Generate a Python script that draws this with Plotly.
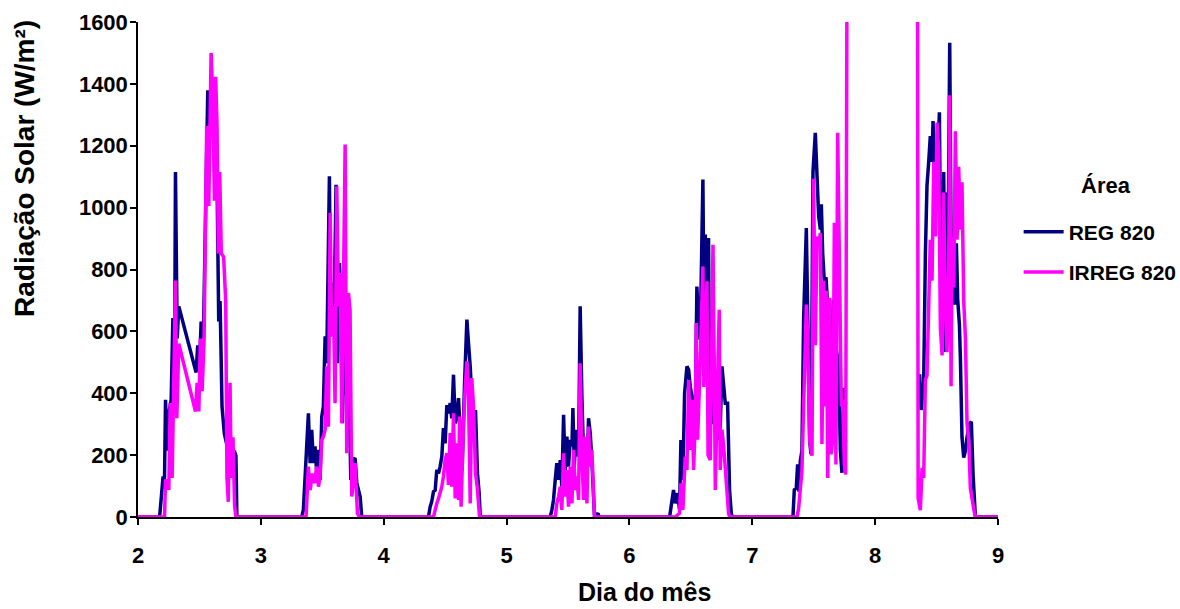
import plotly.graph_objects as go

# ---- data (day of month, solar radiation W/m2) ----
reg_x = [
    2.000, 2.176, 2.203, 2.216, 2.224, 2.238, 2.251, 2.270, 2.284, 2.297, 2.305, 2.319, 2.332,
    2.473, 2.486, 2.500, 2.514, 2.532, 2.568, 2.581, 2.603, 2.622, 2.641, 2.657, 2.668, 2.684,
    2.703, 2.722, 2.743, 2.765, 2.784, 2.797, 2.805,
    3.333, 3.346, 3.387, 3.401, 3.414, 3.428, 3.441, 3.455, 3.469, 3.482, 3.496, 3.509, 3.523,
    3.536, 3.558, 3.569, 3.585, 3.596, 3.612, 3.623, 3.640, 3.653, 3.664, 3.678, 3.699, 3.713,
    3.732, 3.748, 3.767, 3.781, 3.808, 3.821,
    4.364, 4.378, 4.391, 4.405, 4.419, 4.432, 4.446, 4.459, 4.473, 4.486, 4.500, 4.514, 4.527,
    4.541, 4.554, 4.568, 4.582, 4.595, 4.609, 4.622, 4.638, 4.658, 4.677, 4.690, 4.704, 4.717,
    4.731, 4.747, 4.763, 4.777, 4.785, 4.793,
    5.355, 5.369, 5.382, 5.396, 5.409, 5.423, 5.437, 5.450, 5.464, 5.477, 5.491, 5.504, 5.518,
    5.532, 5.540, 5.551, 5.567, 5.586, 5.599, 5.613, 5.627, 5.640, 5.654, 5.667, 5.681, 5.694,
    5.708, 5.716, 5.745, 5.752,
    6.327, 6.338, 6.359, 6.373, 6.392, 6.408, 6.419, 6.435, 6.449, 6.468, 6.482, 6.495, 6.509,
    6.522, 6.536, 6.549, 6.563, 6.576, 6.598, 6.606, 6.617, 6.630, 6.644, 6.651, 6.658, 6.668,
    6.685, 6.700, 6.712, 6.725, 6.740, 6.753, 6.780, 6.799, 6.815, 6.829, 6.837,
    7.331, 7.342, 7.358, 7.369, 7.380, 7.391, 7.404, 7.418, 7.440, 7.451, 7.467, 7.478, 7.494,
    7.513, 7.527, 7.540, 7.554, 7.562, 7.573, 7.586, 7.600, 7.620, 7.640, 7.660, 7.680, 7.703,
    7.717, 7.730, 7.744, 7.757, 7.765,
    8.050,
    8.355, 8.363, 8.374, 8.395, 8.409, 8.422, 8.436, 8.449, 8.463, 8.471, 8.482, 8.504, 8.523,
    8.531, 8.545, 8.558, 8.572, 8.580, 8.591, 8.607, 8.618, 8.631, 8.648, 8.661, 8.672, 8.686,
    8.694, 8.707, 8.721, 8.735, 8.748, 8.770, 8.783, 8.797, 8.816, 9.000,
]
reg_y = [
    0, 0, 126, 126, 379, 214, 335, 379, 643, 412, 1115, 577, 681,
    467, 555, 478, 632, 577, 1379, 1302, 1346, 1313, 1170, 632, 698, 357,
    269, 236, 302, 192, 214, 198, 0,
    0, 23, 335, 174, 282, 174, 228, 141, 217, 120, 325, 357, 584,
    497, 1101, 584, 756, 648, 1074, 497, 821, 648, 303, 605, 389, 551,
    120, 184, 190, 109, 66, 0,
    0, 33, 50, 82, 87, 152, 141, 163, 195, 287, 238, 362, 335,
    368, 319, 460, 303, 325, 384, 271, 150, 433, 638, 562, 487, 379,
    271, 346, 141, 77, 6, 0,
    0, 23, 55, 120, 174, 120, 184, 98, 330, 141, 260, 163, 249,
    228, 352, 163, 282, 195, 681, 389, 195, 217, 109, 319, 271, 184,
    12, 0, 12, 0,
    0, 33, 87, 44, 77, 23, 249, 120, 400, 487, 476, 422, 389,
    217, 325, 745, 616, 573, 1091, 700, 913, 600, 902, 450, 627, 300,
    519, 380, 282, 250, 300, 487, 368, 368, 87, 12, 0,
    0, 88, 93, 170, 82, 181, 214, 643, 934, 709, 247, 203, 1115,
    1242, 1126, 973, 929, 1011, 852, 764, 775, 650, 500, 700, 550, 489,
    214, 143, 418, 247, 250,
    None,
    456, 456, 346, 434, 852, 1071, 1148, 1231, 1148, 1280, 1148, 1104, 1308,
    907, 599, 1115, 533, 1049, 742, 1533, 907, 742, 687, 885, 703, 621,
    511, 258, 192, 214, 258, 302, 308, 137, 0, 0,
]

irreg_x = [
    2.000, 2.216, 2.224, 2.243, 2.251, 2.262, 2.278, 2.289, 2.305, 2.316, 2.332,
    2.468, 2.481, 2.495, 2.508, 2.522, 2.538, 2.559, 2.576, 2.595, 2.608, 2.622, 2.632,
    2.643, 2.654, 2.665, 2.678, 2.697, 2.714, 2.724, 2.735, 2.749, 2.759, 2.773, 2.786, 2.797,
    3.368, 3.387, 3.401, 3.420, 3.436, 3.455, 3.469, 3.482, 3.496, 3.509, 3.523, 3.536, 3.550,
    3.564, 3.577, 3.591, 3.604, 3.618, 3.632, 3.645, 3.659, 3.686, 3.699, 3.713, 3.726, 3.740,
    3.767, 3.786, 3.802,
    4.405, 4.419, 4.432, 4.446, 4.459, 4.473, 4.486, 4.500, 4.514, 4.527, 4.541, 4.554, 4.568,
    4.582, 4.595, 4.609, 4.617, 4.630, 4.644, 4.658, 4.677, 4.690, 4.704, 4.717, 4.731, 4.747,
    4.761, 4.774, 4.780,
    5.396, 5.409, 5.423, 5.437, 5.450, 5.464, 5.477, 5.491, 5.504, 5.518, 5.532, 5.545, 5.559,
    5.572, 5.586, 5.599, 5.613, 5.627, 5.640, 5.654, 5.667, 5.681, 5.694, 5.708, 5.716,
    6.373, 6.392, 6.408, 6.419, 6.435, 6.454, 6.468, 6.482, 6.495, 6.509, 6.522, 6.536, 6.544,
    6.555, 6.563, 6.576, 6.598, 6.606, 6.631, 6.640, 6.658, 6.680, 6.690, 6.699, 6.715, 6.731,
    6.739, 6.753, 6.767, 6.788, 6.807, 6.815,
    7.364, 7.377, 7.391, 7.404, 7.418, 7.440, 7.451, 7.467, 7.486, 7.499, 7.513, 7.527, 7.540,
    7.554, 7.567, 7.581, 7.589, 7.603, 7.614, 7.630, 7.641, 7.657, 7.668, 7.681, 7.695, 7.703,
    7.711, 7.725, 7.736, 7.749, 7.760, 7.771,
    8.050,
    8.345, 8.350, 8.368, 8.382, 8.395, 8.409, 8.422, 8.436, 8.449, 8.463, 8.477, 8.490, 8.504,
    8.517, 8.531, 8.545, 8.558, 8.572, 8.585, 8.599, 8.607, 8.618, 8.626, 8.640, 8.653, 8.667,
    8.680, 8.694, 8.707, 8.721, 8.735, 8.748, 8.762, 8.775, 8.789, 8.802, 8.816, 9.000,
]
irreg_y = [
    0, 0, 121, 93, 93, 368, 126, 368, 764, 319, 560,
    341, 434, 341, 577, 407, 577, 1264, 1005, 1500, 1368, 1022, 1423,
    1269, 852, 1115, 852, 841, 698, 126, 49, 434, 126, 258, 38, 0,
    0, 163, 87, 141, 109, 163, 98, 131, 249, 260, 282, 487, 292,
    983, 584, 681, 368, 1069, 681, 789, 303, 1204, 206, 724, 670, 66,
    174, 12, 0,
    0, 28, 44, 60, 77, 98, 131, 184, 206, 104, 271, 98, 335,
    60, 238, 55, 325, 33, 228, 379, 503, 400, 44, 449, 357, 141,
    98, 6, 0,
    0, 44, 66, 98, 23, 206, 66, 152, 33, 163, 44, 217, 87,
    131, 55, 497, 195, 55, 260, 44, 292, 163, 217, 23, 0,
    0, 6, 12, 109, 23, 195, 152, 443, 217, 379, 152, 303, 627,
    250, 389, 497, 810, 420, 762, 200, 184, 880, 500, 87, 400, 670,
    152, 282, 228, 109, 12, 0,
    0, 27, 82, 148, 357, 687, 577, 247, 198, 1093, 555, 907, 874,
    918, 236, 764, 357, 731, 126, 709, 203, 258, 951, 170, 1242, 1038,
    764, 357, 379, 170, 137, 1800,
    None,
    1800, 60, 22, 159, 126, 445, 456, 764, 896, 764, 1148, 907, 1275,
    1181, 610, 522, 1049, 687, 533, 797, 1363, 423, 907, 742, 1247, 896,
    1132, 929, 1082, 698, 577, 302, 247, 93, 49, 27, 0, 0,
]

x_ticks = [2, 3, 4, 5, 6, 7, 8, 9]
y_ticks = [0, 200, 400, 600, 800, 1000, 1200, 1400, 1600]

FONT = "Liberation Sans, Arial, sans-serif"

fig = go.Figure()
fig.add_trace(go.Scatter(x=reg_x, y=reg_y, mode="lines", name="REG 820",
                         line=dict(color="#000080", width=3.5), connectgaps=False,
                         legendgroup="a"))
fig.add_trace(go.Scatter(x=irreg_x, y=irreg_y, mode="lines", name="IRREG 820",
                         line=dict(color="#FF00FF", width=3.5), connectgaps=False,
                         legendgroup="b"))

axis_common = dict(showline=True, linecolor="black", linewidth=1.5, ticks="outside",
                   ticklen=6, tickwidth=1.5, tickcolor="black", showgrid=False,
                   zeroline=False, mirror=False, automargin=False,
                   tickfont=dict(family=FONT, size=22, color="black", weight="bold"))

fig.update_xaxes(range=[2, 9], tickvals=x_ticks, ticklabelstandoff=12, **axis_common)
fig.update_yaxes(range=[0, 1600], tickvals=y_ticks, ticklabelstandoff=-2, **axis_common)

fig.update_layout(
    width=1180, height=609,
    margin=dict(l=138, r=182, t=22, b=92, autoexpand=False),
    paper_bgcolor="white", plot_bgcolor="white",
    font=dict(family=FONT, color="black"),
    legend=dict(x=1.024, y=0.617, xanchor="left", yanchor="top",
                font=dict(family=FONT, size=21, color="black", weight="bold"),
                tracegroupgap=10, itemwidth=40, bgcolor="rgba(0,0,0,0)"),
    annotations=[
        dict(text="Dia do mês", xref="paper", yref="paper", x=0.5895, y=-0.1838,
             xanchor="center", yanchor="bottom", showarrow=False,
             font=dict(family=FONT, size=25, color="black", weight="bold")),
        dict(text="Radiação Solar (W/m²)", xref="paper", yref="paper", x=-0.1326, y=0.705,
             xanchor="center", yanchor="middle", showarrow=False, textangle=-90,
             font=dict(family=FONT, size=28, color="black", weight="bold")),
        dict(text="Área", xref="paper", yref="paper", x=1.1256, y=0.6707,
             xanchor="center", yanchor="middle", showarrow=False,
             font=dict(family=FONT, size=22, color="black", weight="bold")),
    ],
)

fig.write_html("out.html", config={"displayModeBar": False},
               post_script="document.body.style.margin='0';"
                           "document.body.style.padding='0';"
                           "document.body.style.overflow='hidden';")
